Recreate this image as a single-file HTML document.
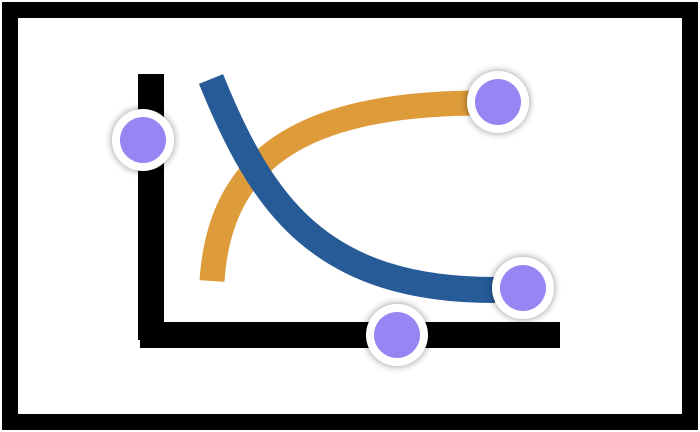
<!DOCTYPE html>
<html><head><style>
html,body{margin:0;padding:0;background:#fff;}
body{width:700px;height:432px;overflow:hidden;}
svg{display:block;}
</style></head><body>
<svg width="700" height="432" viewBox="0 0 700 432" xmlns="http://www.w3.org/2000/svg">
<defs>
<filter id="sh" x="-50%" y="-50%" width="200%" height="200%">
<feGaussianBlur in="SourceAlpha" stdDeviation="4"/>
<feComponentTransfer><feFuncA type="linear" slope="0.45"/></feComponentTransfer>
<feMerge><feMergeNode/><feMergeNode in="SourceGraphic"/></feMerge>
</filter>
</defs>
<rect x="0" y="0" width="700" height="432" fill="#fff"/>
<rect x="10" y="10" width="680" height="412" fill="none" stroke="#000" stroke-width="16"/>
<rect x="138" y="74" width="26" height="266" fill="#000"/>
<rect x="140" y="322" width="420" height="26" fill="#000"/>
<path d="M212,281 C220,160 300,103 482,103" fill="none" stroke="#DE9B3A" stroke-width="25"/>
<path d="M211,79 C262,205 320,290 495,290" fill="none" stroke="#265B98" stroke-width="26"/>
<g filter="url(#sh)">
<circle cx="143" cy="140" r="31" fill="#fff"/>
<circle cx="498" cy="102" r="31" fill="#fff"/>
<circle cx="523" cy="288" r="31" fill="#fff"/>
<circle cx="397" cy="335" r="31" fill="#fff"/>
</g>
<circle cx="143" cy="140" r="23" fill="#9685F2"/>
<circle cx="498" cy="102" r="23" fill="#9685F2"/>
<circle cx="523" cy="288" r="23" fill="#9685F2"/>
<circle cx="397" cy="335" r="23" fill="#9685F2"/>
</svg>
</body></html>
